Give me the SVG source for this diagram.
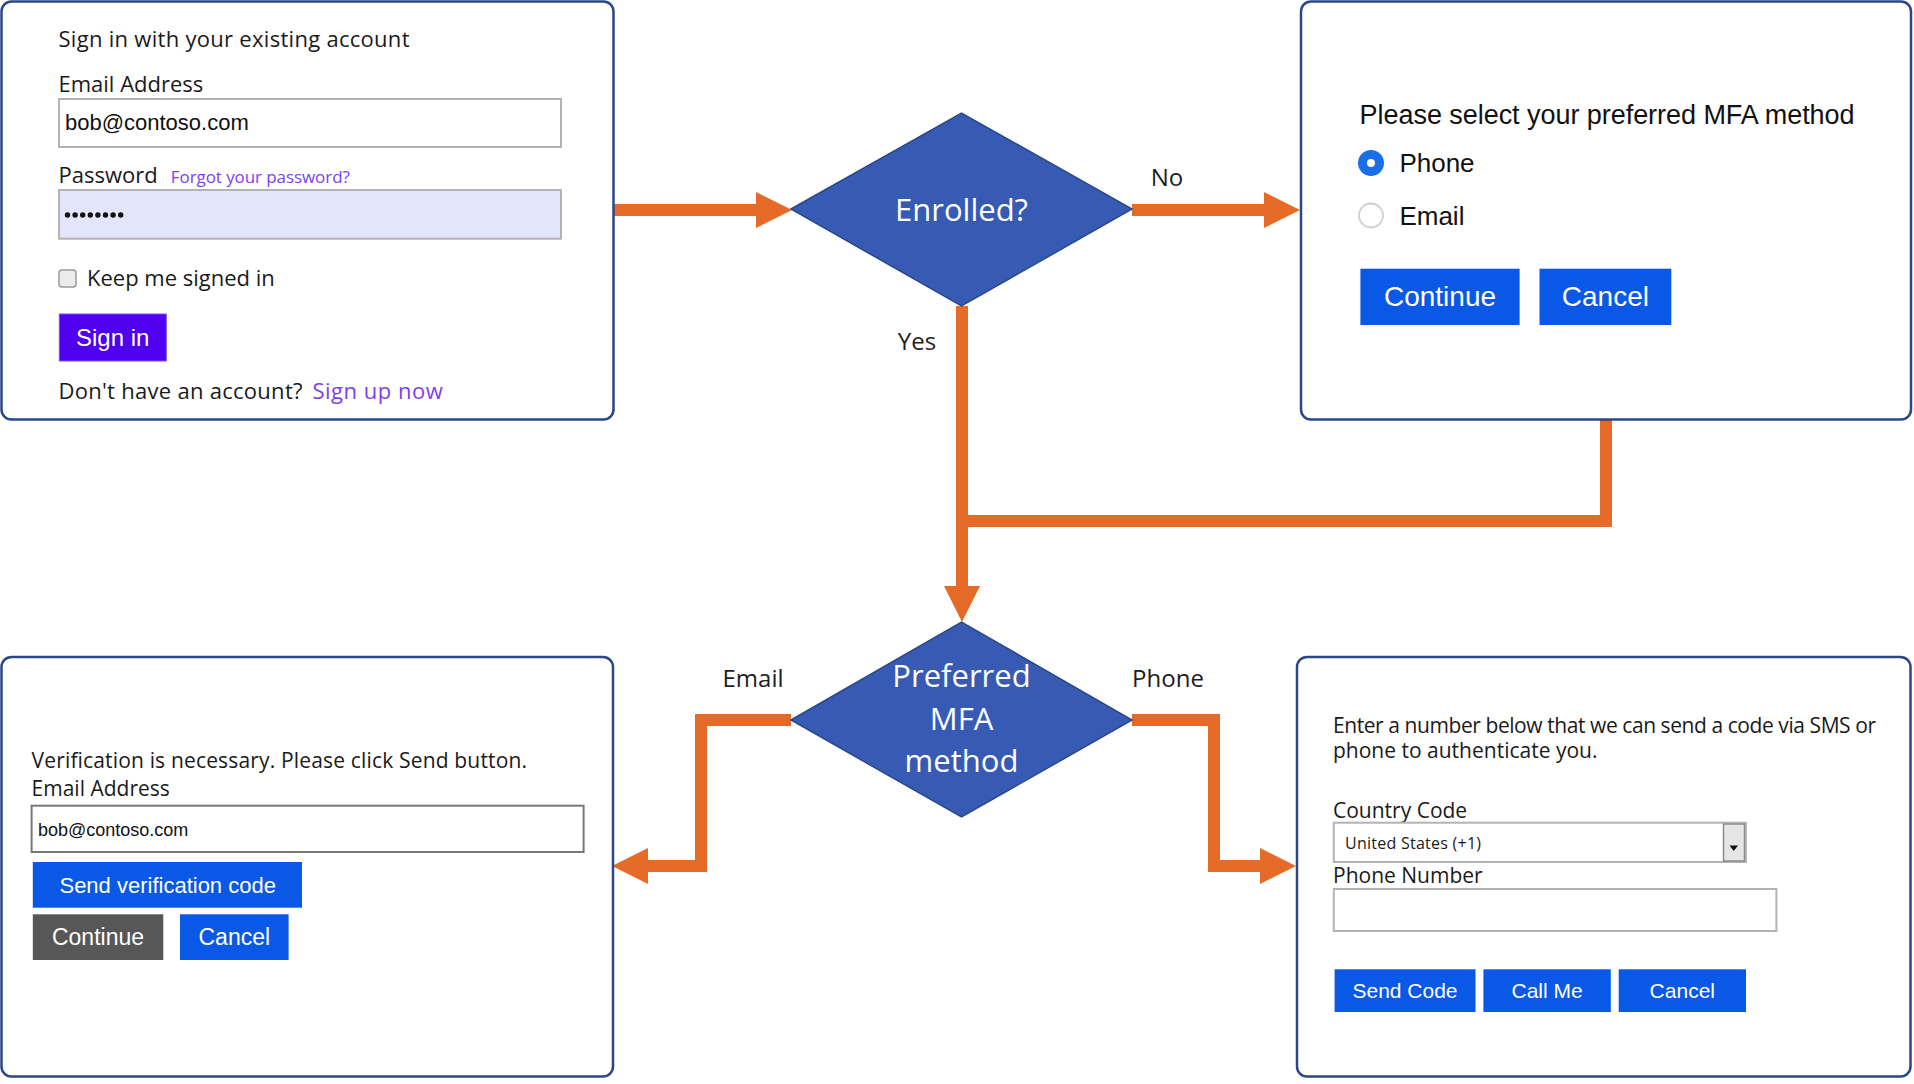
<svg xmlns="http://www.w3.org/2000/svg" width="1914" height="1084" viewBox="0 0 1914 1084">
<defs>
<style>
.panel{fill:#fff;stroke:#2b4785;stroke-width:2.5}
.diam{fill:#375bb5;stroke:#2a4888;stroke-width:1.5}
.dtxt{font-family:"Open Sans","Noto Sans",sans-serif;font-size:31px;fill:#fff;text-anchor:middle}
.lbl{font-family:"Open Sans","Noto Sans",sans-serif;font-size:24px;fill:#1e1e1e;text-anchor:middle}
.seg{font-family:"Open Sans","Noto Sans",sans-serif;fill:#1a1a1a}
.ari{font-family:"Liberation Sans",Arial,sans-serif;fill:#111}
.btn{fill:#0a58e6}
.btxt{font-family:"Liberation Sans",Arial,sans-serif;fill:#fff;text-anchor:middle}
.inp{fill:#fff;stroke:#b3b3b3;stroke-width:2}
.link{fill:#7b3ff0}
.conn{fill:none;stroke:#e56a28;stroke-width:12;stroke-linejoin:miter}
</style>
<marker id="ah" markerUnits="userSpaceOnUse" markerWidth="36" markerHeight="36" refX="0" refY="18" orient="auto" viewBox="0 0 36 36">
<path d="M0,0 L36,18 L0,36 Z" fill="#e56a28"/>
</marker>
</defs>

<g id="connectors">
<path class="conn" d="M614,210 H756" marker-end="url(#ah)"/>
<path class="conn" d="M1132,210 H1264" marker-end="url(#ah)"/>
<path class="conn" d="M962,306 V586" marker-end="url(#ah)"/>
<path class="conn" d="M1606,420 V521 H962"/>
<path class="conn" d="M791,720 H701 V866 H648" marker-end="url(#ah)"/>
<path class="conn" d="M1132,720 H1214 V866 H1260" marker-end="url(#ah)"/>
<text class="lbl" x="1167" y="186">No</text>
<text class="lbl" x="917" y="350">Yes</text>
<text class="lbl" x="753" y="687">Email</text>
<text class="lbl" x="1168" y="687">Phone</text>
</g>

<g id="signin">
<rect class="panel" x="1.5" y="1.5" width="612" height="418" rx="10"/>
<text class="seg" x="58.5" y="46.7" font-size="22" textLength="351">Sign in with your existing account</text>
<text class="seg" x="58.5" y="91.7" font-size="22">Email Address</text>
<rect class="inp" x="59" y="99" width="502" height="48"/>
<text class="ari" x="65" y="130" font-size="22">bob@contoso.com</text>
<text class="seg" x="58.5" y="183" font-size="22">Password</text>
<text class="seg link" x="170.8" y="183" font-size="17" textLength="179">Forgot your password?</text>
<rect class="inp" x="59" y="190" width="502" height="48.7" style="fill:#e3e6fb"/>
<g fill="#111">
<circle cx="67.5" cy="215" r="2.7"/><circle cx="75.1" cy="215" r="2.7"/><circle cx="82.7" cy="215" r="2.7"/><circle cx="90.3" cy="215" r="2.7"/>
<circle cx="97.9" cy="215" r="2.7"/><circle cx="105.5" cy="215" r="2.7"/><circle cx="113.1" cy="215" r="2.7"/><circle cx="120.7" cy="215" r="2.7"/>
</g>
<rect x="59" y="270" width="17" height="17" rx="3" fill="#ececec" stroke="#9a9a9a" stroke-width="1.5"/>
<text class="seg" x="87" y="286" font-size="22">Keep me signed in</text>
<rect x="59.3" y="314" width="107" height="47" fill="#4f00ee" stroke="#7a50f5" stroke-width="1"/>
<text class="btxt" x="112.7" y="346" font-size="24">Sign in</text>
<text class="seg" x="58.5" y="399" font-size="22" textLength="244">Don't have an account?</text>
<text class="seg link" x="312.4" y="399" font-size="22" textLength="130.5">Sign up now</text>
</g>

<g id="enrolled">
<polygon class="diam" points="791,209 961.5,113 1132,209 961.5,306"/>
<text class="dtxt" x="961.5" y="221">Enrolled?</text>
</g>

<g id="select-mfa">
<rect class="panel" x="1301" y="1.5" width="610" height="418" rx="10"/>
<text class="ari" x="1359.6" y="124" font-size="27" textLength="495">Please select your preferred MFA method</text>
<circle cx="1371" cy="163" r="13" fill="#1a6fe8"/>
<circle cx="1371" cy="163" r="4" fill="#fff"/>
<text class="ari" x="1399.4" y="172" font-size="26">Phone</text>
<circle cx="1371" cy="215.5" r="12" fill="#fff" stroke="#cfcfcf" stroke-width="1.8"/>
<text class="ari" x="1399.4" y="225" font-size="26">Email</text>
<rect class="btn" x="1360.4" y="268.7" width="159.2" height="56.3"/>
<text class="btxt" x="1440" y="306" font-size="28">Continue</text>
<rect class="btn" x="1539.5" y="268.7" width="131.8" height="56.3"/>
<text class="btxt" x="1605.4" y="306" font-size="28">Cancel</text>
</g>

<g id="preferred-mfa">
<polygon class="diam" points="791,720 961.5,622 1132,720 961.5,817"/>
<text class="dtxt" x="961.5" y="687">Preferred</text>
<text class="dtxt" x="961.5" y="729.5">MFA</text>
<text class="dtxt" x="961.5" y="772">method</text>
</g>

<g id="email-verify">
<rect class="panel" x="1.5" y="657" width="611.5" height="419.5" rx="10"/>
<text class="seg" x="31.6" y="768.3" font-size="21" textLength="495.5">Verification is necessary. Please click Send button.</text>
<text class="seg" x="31.6" y="795.7" font-size="21">Email Address</text>
<rect x="31.6" y="805.7" width="552" height="46.3" fill="#fff" stroke="#777" stroke-width="2"/>
<text class="ari" x="38" y="835.7" font-size="18">bob@contoso.com</text>
<rect class="btn" x="32.8" y="862" width="269.2" height="45.7"/>
<text class="btxt" x="167.7" y="892.5" font-size="22">Send verification code</text>
<rect x="32.8" y="914.3" width="130.5" height="45.7" fill="#575757"/>
<text class="btxt" x="98" y="945" font-size="23">Continue</text>
<rect class="btn" x="180" y="914.3" width="108.6" height="45.7"/>
<text class="btxt" x="234.3" y="945" font-size="23">Cancel</text>
</g>

<g id="phone-verify">
<rect class="panel" x="1297" y="657" width="613.5" height="419.5" rx="10"/>
<text class="seg" x="1333" y="733.3" font-size="21" textLength="543">Enter a number below that we can send a code via SMS or</text>
<text class="seg" x="1333" y="758.3" font-size="21">phone to authenticate you.</text>
<text class="seg" x="1333" y="817.7" font-size="21">Country Code</text>
<rect class="inp" x="1333.8" y="822.7" width="412" height="39.3"/>
<rect x="1723.5" y="824" width="21" height="37" fill="#e6e6e6" stroke="#8c8c8c" stroke-width="1.5"/>
<path d="M1729.5,845.5 L1738,845.5 L1733.75,851 Z" fill="#111"/>
<text class="seg" x="1345" y="849.3" font-size="16" textLength="136">United States (+1)</text>
<text class="seg" x="1333" y="883.3" font-size="21">Phone Number</text>
<rect class="inp" x="1333.8" y="889" width="442.6" height="42"/>
<rect class="btn" x="1334.6" y="969.3" width="140.9" height="42.7"/>
<text class="btxt" x="1405" y="998.3" font-size="21">Send Code</text>
<rect class="btn" x="1483.4" y="969.3" width="127.4" height="42.7"/>
<text class="btxt" x="1547.1" y="998.3" font-size="21">Call Me</text>
<rect class="btn" x="1618.7" y="969.3" width="127.3" height="42.7"/>
<text class="btxt" x="1682.3" y="998.3" font-size="21">Cancel</text>
</g>
</svg>
